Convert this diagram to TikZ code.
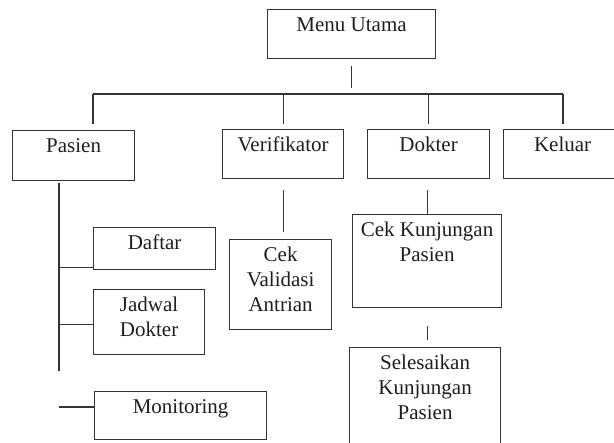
\documentclass[tikz,border=0pt]{standalone}
\usepackage{fontspec}
\setmainfont{Liberation Serif}
\definecolor{linegray}{HTML}{333333}
\definecolor{textgray}{HTML}{1E1E1E}
\newcommand{\boxtext}[3]{\parbox[t][#2pt][t]{#1pt}{\centering\rule{0pt}{22pt}#3}}
\tikzset{
  menubox/.style={draw=linegray, line width=1.2pt, inner sep=0pt, anchor=north west, text=textgray},
  link/.style={draw=linegray, line width=1.2pt},
}
\begin{document}
\begin{tikzpicture}[x=1pt,y=-1pt,font=\fontsize{21}{25}\selectfont]
\clip (0,0) rectangle (614,443);
% top level
\node[menubox] (menu) at (267,9) {\boxtext{168}{49}{Menu Utama}};
\node[menubox] (pasien) at (12,130) {\boxtext{122}{50}{Pasien}};
\node[menubox] (verif) at (222,129) {\boxtext{121}{49}{Verifikator}};
\node[menubox] (dokter) at (367,129) {\boxtext{122}{49}{Dokter}};
\node[menubox] (keluar) at (503,129) {\boxtext{118}{49}{Keluar}};
% sub menus
\node[menubox] (daftar) at (93,227) {\boxtext{122}{42}{Daftar}};
\node[menubox] (jadwal) at (93,289) {\boxtext{111}{65}{Jadwal\\Dokter}};
\node[menubox] (monitor) at (94,391) {\boxtext{172}{48}{Monitoring}};
\node[menubox] (cekval) at (229,239) {\boxtext{102}{90}{Cek\\Validasi\\Antrian}};
\node[menubox] (cekkun) at (352,214) {\boxtext{149}{93}{Cek Kunjungan\\Pasien}};
\node[menubox] (selesai) at (349,347) {\boxtext{151}{100}{Selesaikan\\Kunjungan\\Pasien}};
% bus
\coordinate (busL) at (93,94);
\coordinate (busR) at (563,94);
\draw[link, shorten <=7pt, shorten >=6pt] (menu.south) -- (menu.south |- busL);
\draw[link] (busL) -- (busR);
\draw[link, shorten >=6pt] (busL) -- (busL |- pasien.north);
\draw[link, shorten >=5pt] (verif.north |- busL) -- (verif.north);
\draw[link, shorten >=5pt] (dokter.north |- busL) -- (dokter.north);
\draw[link, shorten >=5pt] (busR) -- (busR |- keluar.north);
% pasien trunk
\coordinate (trunk) at (59,183);
\coordinate (trunkend) at (59,371);
\coordinate (daftarin) at ([yshift=3pt]daftar.south west);
\coordinate (jadwalin) at ([yshift=-2.5pt]jadwal.west);
\coordinate (monin) at ([yshift=-16pt]monitor.north west);
\draw[link] (trunk) -- (trunkend);
\draw[link] (daftarin -| trunk) -- (daftarin);
\draw[link] (jadwalin -| trunk) -- (jadwalin);
\draw[link] (monin -| trunk) -- (monin);
% verifikator and dokter
\draw[link, shorten <=11pt, shorten >=7pt] (verif.south) -- (verif.south |- cekval.north);
\draw[link, shorten <=11pt] (cekkun.north |- dokter.south) -- (cekkun.north);
\draw[link, shorten <=18pt, shorten >=7pt] (cekkun.south) -- (cekkun.south |- selesai.north);
\end{tikzpicture}
\end{document}
